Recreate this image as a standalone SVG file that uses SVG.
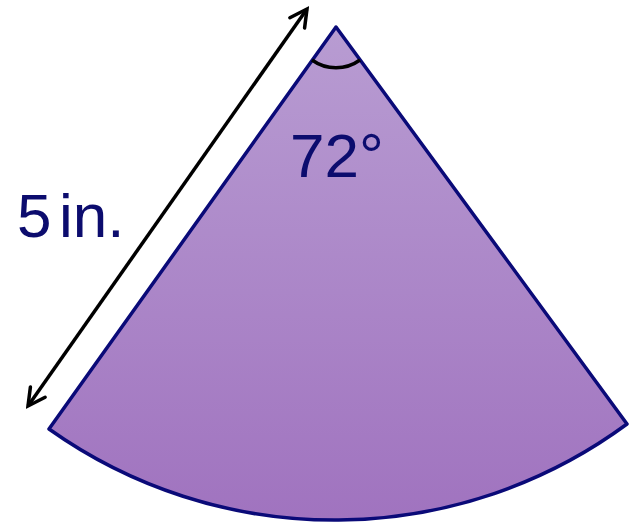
<svg xmlns="http://www.w3.org/2000/svg" width="629" height="524" viewBox="0 0 629 524">
<defs>
<linearGradient id="fillg" x1="0" y1="0" x2="0" y2="1">
<stop offset="0" stop-color="#b89cd2"/>
<stop offset="1" stop-color="#a073bf"/>
</linearGradient>
<marker id="ah" viewBox="0 0 24 24" refX="21" refY="12" markerWidth="24" markerHeight="24" markerUnits="userSpaceOnUse" orient="auto-start-reverse">
<path d="M4,3 L21,12 L4,21" fill="none" stroke="#000" stroke-width="3.5" stroke-linecap="round" stroke-linejoin="miter"/>
</marker>
<style>
.lbl{font-family:"Liberation Sans",Arial,sans-serif;font-size:62px;fill:#0c0c6e}
</style>
</defs>
<g id="sector">
<path d="M336,27 L49,429 A493,493 0 0 0 627,424 Z" fill="url(#fillg)" stroke="#0a0a78" stroke-width="3.5" stroke-linejoin="round"/>
<path d="M312,60 A41,41 0 0 0 360,60" fill="none" stroke="#000" stroke-width="3.5"/>
</g>
<g id="connectors">
<line x1="307" y1="9" x2="28" y2="406" stroke="#000" stroke-width="3.5" marker-start="url(#ah)" marker-end="url(#ah)"/>
</g>
<g id="labels">
<text class="lbl" x="290" y="177">72°</text>
<text class="lbl" y="237"><tspan x="17">5</tspan><tspan x="59">in.</tspan></text>
</g>
</svg>
